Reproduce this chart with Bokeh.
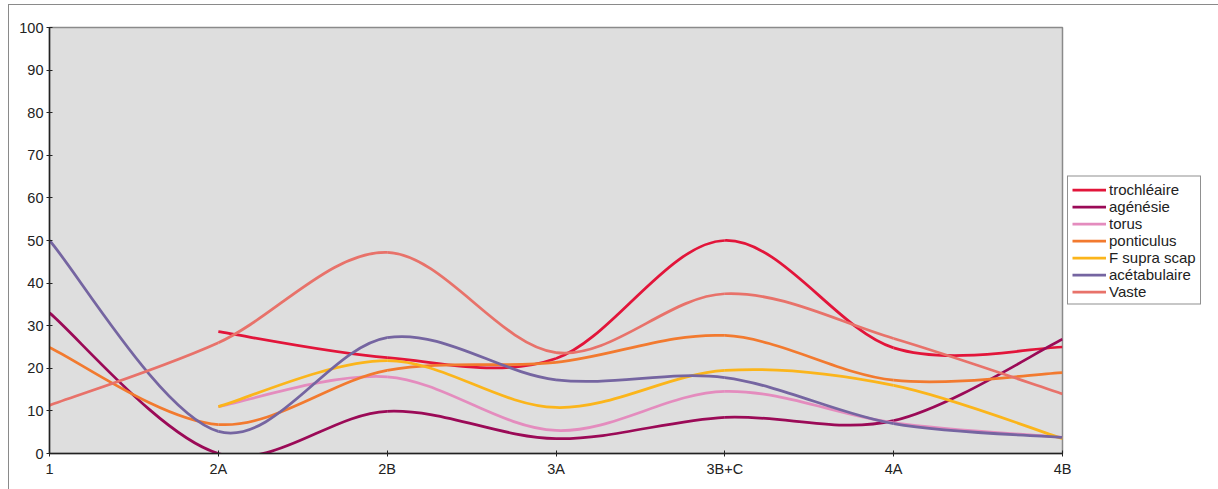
from bokeh.plotting import figure
from bokeh.models import Range1d, FixedTicker, Legend, LegendItem, ColumnDataSource
from bokeh.embed import file_html
from bokeh.resources import INLINE

categories = ["1", "2A", "2B", "3A", "3B+C", "4A", "4B"]

trochleaire = [None, 28.6, 22.5, 22.3, 50.0, 24.8, 25.0]
agenesie = [33.0, 0.0, 9.9, 3.5, 8.5, 7.7, 26.8]
torus = [None, 11.0, 18.0, 5.4, 14.6, 7.2, 3.8]
ponticulus = [24.9, 6.8, 19.5, 21.4, 27.7, 17.2, 19.0]
f_supra_scap = [None, 11.0, 21.8, 10.8, 19.5, 16.0, 3.5]
acetabulaire = [50.0, 5.2, 27.2, 17.3, 17.8, 7.0, 3.8]
vaste = [11.3, 26.0, 47.2, 23.7, 37.5, 27.0, 14.0]

series_names = ["trochléaire", "agénésie", "torus", "ponticulus",
                "F supra scap", "acétabulaire", "Vaste"]
series_values = [trochleaire, agenesie, torus, ponticulus,
                 f_supra_scap, acetabulaire, vaste]
series_colors = ["#E2153A", "#9B0A57", "#E48CBE", "#F27A2F",
                 "#FBB51B", "#7565A1", "#E8726A"]

FONT = "Liberation Sans"

p = figure(frame_width=1013, frame_height=426, output_backend="svg", toolbar_location=None,
           x_range=Range1d(0, len(categories) - 1), y_range=Range1d(0, 100),
           min_border_left=40, min_border_right=0, min_border_top=22,
           min_border_bottom=36)
p.background_fill_color = "#DEDEDE"
p.border_fill_color = "white"
p.outline_line_color = "#8A8A8A"
p.outline_line_width = 1.5
p.xgrid.visible = False
p.ygrid.visible = False
p.styles = {"margin-left": "8px", "margin-top": "4px",
            "border-left": "1px solid #8A8A8A", "border-top": "1px solid #8A8A8A",
            "border-right": "1px solid #8A8A8A"}

p.xaxis.ticker = FixedTicker(ticks=list(range(len(categories))))
p.xaxis.major_label_overrides = {i: c for i, c in enumerate(categories)}
p.yaxis.ticker = FixedTicker(ticks=list(range(0, 101, 10)))
for ax in (p.xaxis[0], p.yaxis[0]):
    ax.axis_line_color = "#222222"
    ax.axis_line_width = 1.5
    ax.major_tick_line_color = "#222222"
    ax.major_tick_in = 3
    ax.major_tick_out = 3
    ax.minor_tick_line_color = None
    ax.major_label_text_font = FONT
    ax.major_label_text_font_size = "14.5px"
    ax.major_label_text_color = "#222222"
p.yaxis.major_label_standoff = 3
p.xaxis.major_label_standoff = 4


def bezier_segments(vals):
    # Catmull-Rom style Bezier control points (Excel-like smoothed line)
    pts = [(i, v) for i, v in enumerate(vals) if v is not None]
    d = dict(x0=[], y0=[], x1=[], y1=[], cx0=[], cy0=[], cx1=[], cy1=[])
    n = len(pts)
    for k in range(n - 1):
        p0 = pts[k - 1] if k > 0 else pts[k]
        p1 = pts[k]
        p2 = pts[k + 1]
        p3 = pts[k + 2] if k + 2 < n else pts[k + 1]
        d["x0"].append(p1[0]); d["y0"].append(p1[1])
        d["x1"].append(p2[0]); d["y1"].append(p2[1])
        d["cx0"].append(p1[0] + (p2[0] - p0[0]) / 6.0)
        d["cy0"].append(p1[1] + (p2[1] - p0[1]) / 6.0)
        d["cx1"].append(p2[0] - (p3[0] - p1[0]) / 6.0)
        d["cy1"].append(p2[1] - (p3[1] - p1[1]) / 6.0)
    return d


items = []
for name, vals, col in zip(series_names, series_values, series_colors):
    src = ColumnDataSource(bezier_segments(vals))
    r = p.bezier(x0="x0", y0="y0", x1="x1", y1="y1", cx0="cx0", cy0="cy0",
                 cx1="cx1", cy1="cy1", source=src, line_color=col, line_width=2.75)
    items.append(LegendItem(label=name, renderers=[r]))

legend = Legend(items=items, location="center_left")
legend.border_line_color = "#222222"
legend.border_line_width = 1
legend.background_fill_color = "white"
legend.label_text_font = FONT
legend.label_text_font_size = "15px"
legend.label_text_color = "#222222"
legend.glyph_width = 34
legend.glyph_height = 16
legend.label_height = 16
legend.label_standoff = 3
legend.spacing = 0
legend.padding = 4
legend.margin = 5
p.add_layout(legend, "right")

open("out.html", "w").write(file_html(p, INLINE))
